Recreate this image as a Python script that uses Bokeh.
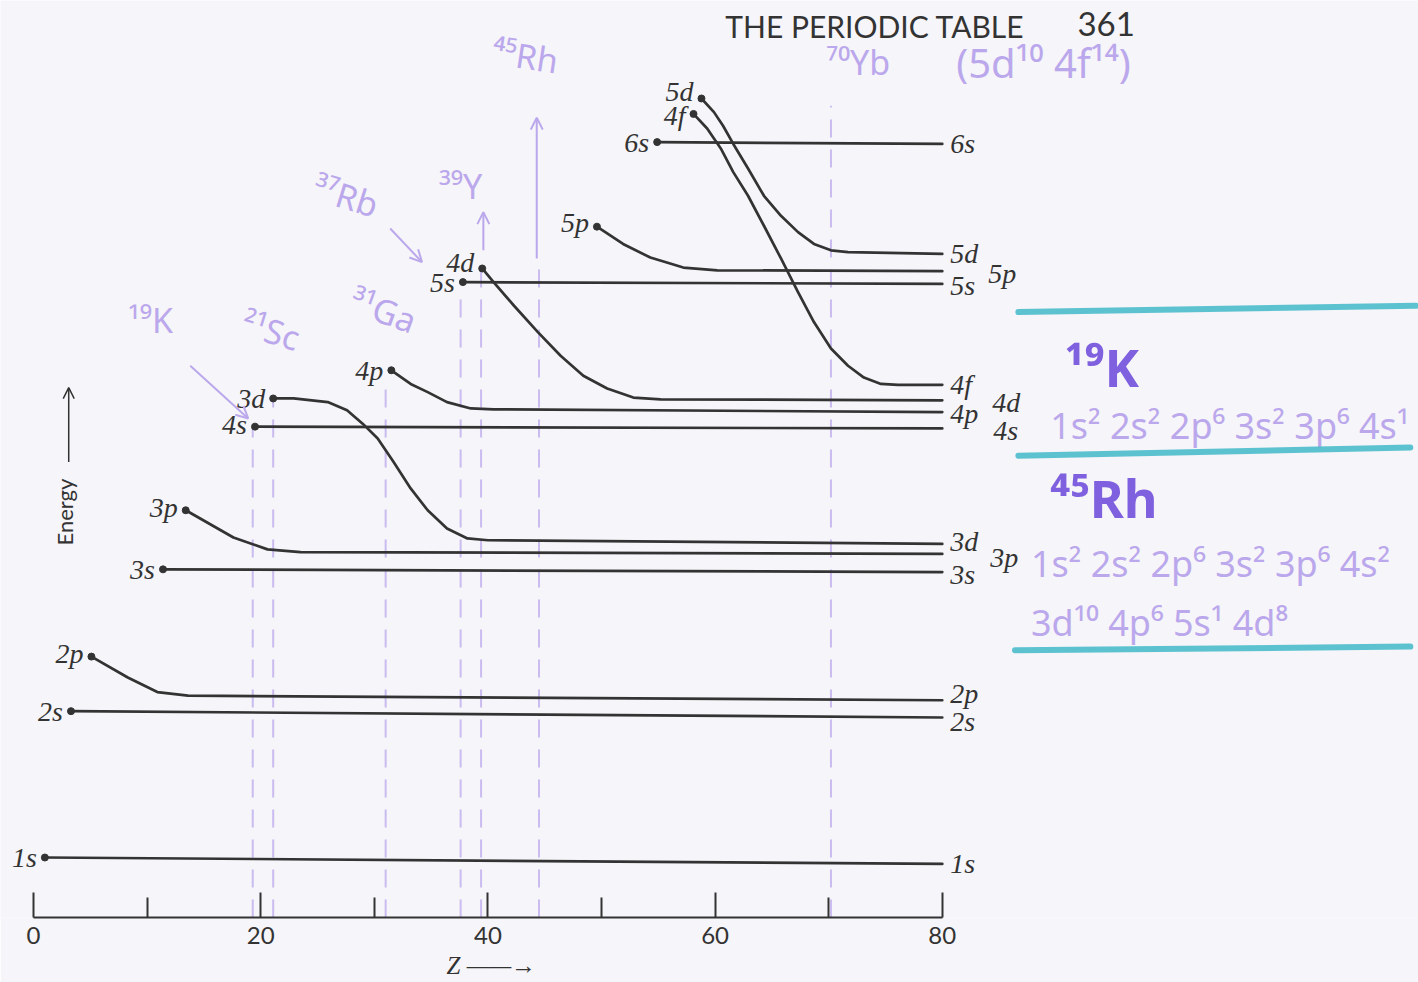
import math
from bokeh.plotting import figure
from bokeh.models import Range1d, FixedTicker, ColumnDataSource, Label, Arrow, OpenHead, Title
from bokeh.core.properties import value
from bokeh.embed import file_html
from bokeh.resources import INLINE

# ---------------- data (Z = atomic number, E = energy, arbitrary units) ----------------
ORBITALS = ["1s", "2s", "2p", "3s", "3p", "4s", "3d", "4p", "5s", "4d", "5p", "6s", "4f", "5d"]

Z_1s = [1.0, 80.0]
E_1s = [6.6, 5.9]
Z_2s = [3.3, 80.0]
E_2s = [22.7, 22.0]
Z_2p = [5.1, 8.3, 10.9, 13.6, 80.0]
E_2p = [28.7, 26.4, 24.8, 24.4, 23.9]
Z_3s = [11.4, 80.0]
E_3s = [38.3, 38.0]
Z_3p = [13.4, 17.6, 20.6, 23.5, 80.0]
E_3p = [44.8, 41.8, 40.5, 40.2, 40.0]
Z_4s = [19.5, 80.0]
E_4s = [54.0, 53.8]
Z_3d = [21.1, 22.9, 25.9, 27.6, 29.0, 30.3, 31.7, 33.2, 34.7, 36.4, 38.2, 40.0, 80.0]
E_3d = [57.1, 57.1, 56.7, 55.8, 54.3, 52.7, 50.1, 47.2, 44.8, 42.8, 41.7, 41.5, 41.1]
Z_4p = [31.5, 33.2, 34.7, 36.4, 38.5, 40.5, 80.0]
E_4p = [60.2, 58.7, 57.8, 56.7, 56.0, 55.9, 55.6]
Z_5s = [37.8, 80.0]
E_5s = [69.9, 69.7]
Z_4d = [39.5, 40.5, 42.3, 44.4, 46.4, 48.4, 50.5, 52.8, 55.2, 80.0]
E_4d = [71.4, 69.9, 67.3, 64.4, 61.8, 59.6, 58.2, 57.2, 57.0, 56.9]
Z_5p = [49.6, 51.9, 54.3, 57.2, 60.2, 80.0]
E_5p = [76.0, 74.1, 72.6, 71.5, 71.2, 71.1]
Z_6s = [54.9, 80.0]
E_6s = [85.3, 85.1]
Z_4f = [58.1, 59.3, 60.5, 61.6, 62.9, 64.3, 65.8, 67.3, 68.7, 70.2, 71.7, 73.1, 74.6, 76.1, 80.0]
E_4f = [88.4, 86.8, 84.6, 82.0, 79.4, 76.1, 72.5, 68.8, 65.5, 62.6, 60.7, 59.4, 58.7, 58.6, 58.6]
Z_5d = [58.8, 59.9, 60.7, 61.6, 62.9, 64.3, 65.8, 67.3, 68.7, 70.2, 71.7, 80.0]
E_5d = [90.1, 88.6, 87.1, 85.1, 82.4, 79.4, 77.2, 75.4, 74.1, 73.4, 73.2, 73.0]

TICKS_MAJOR = [0, 20, 40, 60, 80]
TICKS_MINOR = [10, 30, 50, 70]

# handwritten annotations
MARK_Z = [19.3, 21.1, 31.0, 37.6, 39.4, 44.5, 70.2]
MARK_TOP = [54.1, 56.9, 58.3, 69.0, 72.3, 72.5, 89.3]
ELEM_TEXT = ["¹⁹K", "²¹Sc", "³¹Ga", "³⁷Rb", "³⁹Y", "⁴⁵Rh", "⁷⁰Yb", "(5d¹⁰ 4f¹⁴)"]
ELEM_Z = [10.3, 20.9, 30.8, 27.5, 37.6, 43.3, 72.6, 88.9]
ELEM_E = [65.7, 64.6, 66.8, 79.4, 80.5, 94.8, 94.1, 94.1]
CONFIG_TEXT = ["1s² 2s² 2p⁶ 3s² 3p⁶ 4s¹", "1s² 2s² 2p⁶ 3s² 3p⁶ 4s²", "3d¹⁰ 4p⁶ 5s¹ 4d⁸"]
CONFIG_Z = [89.5, 87.8, 87.8]
CONFIG_E = [54.1, 38.9, 32.5]
BIG_TEXT = ["¹⁹K", "⁴⁵Rh"]
BIG_Z = [90.8, 89.5]
BIG_E = [60.6, 46.2]
RULE_Z0 = [86.7, 86.7, 86.4]
RULE_Z1 = [121.7, 121.2, 121.2]
RULE_E0 = [66.6, 50.8, 29.4]
RULE_E1 = [67.3, 51.7, 29.8]

# ---------------- styling ----------------
INK = "#333333"
LAV = "#bba8ec"
PURPLE = "#7f60df"
CYAN = "#4cbccb"
BG = "#f6f5f9"

series = {o: (globals()["Z_" + o], globals()["E_" + o]) for o in ORBITALS}

LEFT_DY = {"1s": 0, "2s": 0, "2p": -3, "3s": 0, "3p": -3, "4s": -2, "3d": 0, "4p": 0,
           "5s": 0, "4d": -6, "5p": -4, "6s": 0, "4f": 2, "5d": -7}
RIGHT_OFF = {"1s": (8, 0), "2s": (8, 4), "2p": (8, -7), "3s": (8, 2), "3p": (48, 4),
             "3d": (8, -2), "4s": (51, 2), "4p": (8, 1), "4d": (50, 2), "4f": (8, 0),
             "5s": (8, 2), "5p": (46, 2), "5d": (8, 0), "6s": (8, 0)}

p = figure(width=1418, height=982, x_range=Range1d(-2.905, 121.92), y_range=Range1d(0, 100.88),
           output_backend="svg", toolbar_location=None, y_axis_location=None,
           min_border_left=0, min_border_right=0, min_border_top=0, min_border_bottom=65)
p.grid.visible = False
p.outline_line_color = None
p.background_fill_color = BG
p.border_fill_color = BG

ax = p.xaxis[0]
ax.bounds = (0, 80)
ax.ticker = FixedTicker(ticks=TICKS_MAJOR, minor_ticks=TICKS_MINOR)
ax.major_tick_in = 25
ax.major_tick_out = 0
ax.minor_tick_in = 20
ax.minor_tick_out = 0
ax.axis_line_width = 2
ax.axis_line_color = INK
ax.major_tick_line_width = 2
ax.major_tick_line_color = INK
ax.minor_tick_line_width = 2
ax.minor_tick_line_color = INK
ax.major_label_text_font = "Lato"
ax.major_label_text_font_size = "24px"
ax.major_label_text_color = INK
ax.major_label_standoff = 9
ax.major_label_text_line_height = 0.9

# Z label with arrow, under the axis at the left part
p.add_layout(Title(text="Z ——→", align="left", offset=446, standoff=6,
                   text_font="Liberation Serif", text_font_style="italic",
                   text_font_size="25px", text_line_height=0.9, text_color=INK), "below")

# handwritten dashed guides
p.segment(x0=MARK_Z, y0=[0] * len(MARK_Z), x1=MARK_Z, y1=MARK_TOP, line_color=LAV,
          line_width=2, line_dash="18 12", line_alpha=0.75)
for (xs, ys, xe, ye) in [(13.8, 60.7, 18.9, 54.9), (31.4, 75.8, 34.2, 72.1),
                         (39.6, 73.4, 39.6, 77.6), (44.3, 72.5, 44.3, 88.0)]:
    p.add_layout(Arrow(end=OpenHead(size=12, line_color=LAV, line_width=2), x_start=xs,
                       y_start=ys, x_end=xe, y_end=ye, line_color=LAV, line_width=2))

angles = [0, -0.3, -0.35, -0.3, 0, -0.15, 0, 0]
p.text(x=ELEM_Z, y=ELEM_E, text=ELEM_TEXT, angle=angles, text_align="center",
       text_baseline="middle", text_font=value("Noto Sans"),
       text_font_size=["34px"] * 7 + ["40px"], text_color=LAV)
p.text(x=CONFIG_Z, y=CONFIG_E, text=CONFIG_TEXT, text_align="left", text_baseline="middle",
       text_font=value("Noto Sans"), text_font_size="36px", text_color=LAV)
p.text(x=BIG_Z, y=BIG_E, text=BIG_TEXT, text_align="left", text_baseline="middle",
       text_font=value("Noto Sans"), text_font_size="52px", text_font_style="bold",
       text_color=PURPLE)
p.segment(x0=RULE_Z0, y0=RULE_E0, x1=RULE_Z1, y1=RULE_E1, line_color=CYAN, line_width=6,
          line_cap="round", line_alpha=0.9)

# energy level curves
src = ColumnDataSource(dict(xs=[series[o][0] for o in ORBITALS],
                            ys=[series[o][1] for o in ORBITALS]))
p.multi_line(xs="xs", ys="ys", source=src, line_color=INK, line_width=2.7,
             line_join="round", line_cap="round")
p.scatter(x=[series[o][0][0] for o in ORBITALS], y=[series[o][1][0] for o in ORBITALS],
          size=7, color=INK)

# left labels
p.text(x=[series[o][0][0] for o in ORBITALS], y=[series[o][1][0] for o in ORBITALS],
       text=ORBITALS, x_offset=-8, y_offset=[LEFT_DY[o] for o in ORBITALS],
       text_align="right", text_baseline="middle", text_font=value("Liberation Serif"),
       text_font_style="italic", text_font_size="28px", text_color=INK)
# right labels
p.text(x=[series[o][0][-1] for o in ORBITALS], y=[series[o][1][-1] for o in ORBITALS],
       text=ORBITALS, x_offset=[RIGHT_OFF[o][0] for o in ORBITALS],
       y_offset=[RIGHT_OFF[o][1] for o in ORBITALS], text_align="left",
       text_baseline="middle", text_font=value("Liberation Serif"),
       text_font_style="italic", text_font_size="28px", text_color=INK)

# energy axis label and arrow
p.add_layout(Label(x=2.7, y=44.6, text="Energy", angle=math.pi / 2, text_align="center",
                   text_baseline="middle", text_font="Lato", text_font_size="22px",
                   text_color=INK))
p.add_layout(Arrow(end=OpenHead(size=11, line_color=INK, line_width=1.5), x_start=3.1,
                   y_start=50.1, x_end=3.1, y_end=58.3, line_color=INK, line_width=1.5))

# page header
p.add_layout(Label(x=60.9, y=98.1, text="THE PERIODIC TABLE", text_align="left",
                   text_baseline="middle", text_font="Lato", text_font_size="30px",
                   text_color=INK))
p.add_layout(Label(x=91.9, y=98.3, text="361", text_align="left", text_baseline="middle",
                   text_font="Lato", text_font_size="33px", text_color=INK))

open("out.html", "w").write(file_html(p, INLINE))
